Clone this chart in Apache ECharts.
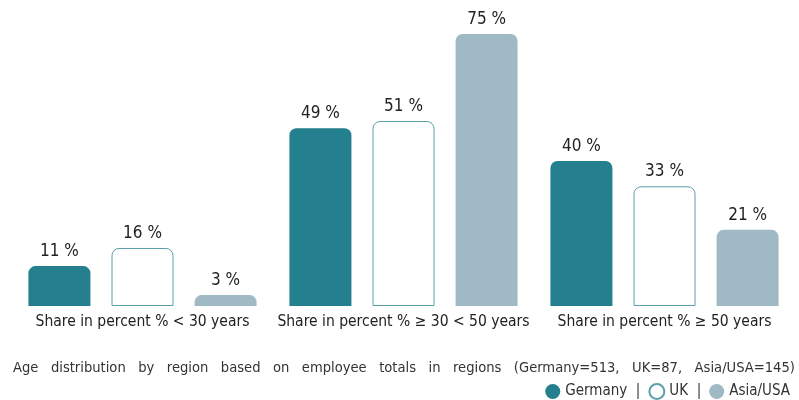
<!DOCTYPE html>
<html>
<head>
<meta charset="utf-8">
<script src="https://cdn.jsdelivr.net/npm/echarts@6/dist/echarts.min.js"></script>
<style>
	html, body { margin: 0; padding: 0; background: #fff; }
	#chart { width: 799px; height: 400px; }
</style>
</head>
<body>
<div id="chart"></div>
<script>
var categories = ["Share in percent % < 30 years", "Share in percent % \u2265 30 < 50 years", "Share in percent % \u2265 50 years"];
var germany = [11, 49, 40];
var uk = [16, 51, 33];
var asiaUsa = [3, 75, 21];
var note = "Age distribution by region based on employee totals in regions (Germany=513, UK=87, Asia/USA=145)";

var font = "'DejaVu Sans Condensed', 'Liberation Sans Narrow', sans-serif";

// spread words out like justified text
var noteText = note.split(" ").join("   ");

var chart = echarts.init(document.getElementById("chart"));

function barLabel() {
	return {
		show: true,
		position: "top",
		distance: 6,
		color: "#222",
		fontSize: 17,
		fontFamily: font,
		formatter: "{c} %"
	};
}

chart.setOption({
	animation: false,
	title: {
		text: noteText,
		left: 8,
		top: 356,
		textStyle: { fontSize: 14.6, fontWeight: "normal", color: "#333", fontFamily: font }
	},
	legend: {
		right: 4,
		top: 378,
		icon: "circle",
		itemWidth: 15,
		itemHeight: 15,
		itemGap: 8,
		textStyle: { fontSize: 15, color: "#333", fontFamily: font },
		formatter: function(name) {
			return name == "Asia/USA" ? name : name + "  |";
		}
	},
	grid: { left: 12, right: 4, top: 34, bottom: 94 },
	xAxis: {
		type: "category",
		data: categories,
		axisLine: { show: false },
		axisTick: { show: false },
		axisLabel: { interval: 0, fontSize: 15.5, color: "#222", fontFamily: font, margin: 8 }
	},
	yAxis: {
		type: "value",
		min: 0,
		max: 75,
		show: false
	},
	series: [
		{
			name: "Germany",
			type: "bar",
			data: germany,
			barWidth: 62,
			barGap: "34%",
			itemStyle: { color: "#247f8f", borderRadius: [7, 7, 0, 0] },
			label: barLabel()
		},
		{
			name: "UK",
			type: "bar",
			data: uk,
			barWidth: 62,
			itemStyle: { color: "#fff", borderColor: "#5a9faa", borderWidth: 1, borderRadius: [7, 7, 0, 0] },
			label: barLabel()
		},
		{
			name: "Asia/USA",
			type: "bar",
			data: asiaUsa,
			barWidth: 62,
			itemStyle: { color: "#9fbac4", borderRadius: [7, 7, 0, 0] },
			label: barLabel()
		}
	]
});
</script>
</body>
</html>
